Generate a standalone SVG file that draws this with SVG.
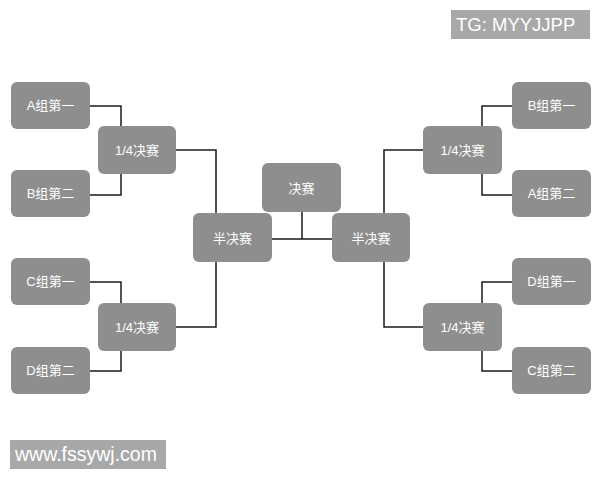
<svg xmlns="http://www.w3.org/2000/svg" width="600" height="480" viewBox="0 0 600 480">
<style>
.n rect{fill:#8e8e8e;}
.n text{fill:#fff;font-family:"Liberation Sans","Noto Sans CJK SC",sans-serif;font-size:13px;text-anchor:middle;dominant-baseline:central;}
.c path{fill:none;stroke:#1a1a1a;stroke-width:1.5;}
.wm rect{fill:#a8a8a8;}
.wm text{fill:#fff;font-family:"Liberation Sans",sans-serif;}
</style>
<rect width="600" height="480" fill="#fff"/>
<g class="c">
<path d="M90 106H121V126M90 195H121V174"/>
<path d="M90 282H121V303M90 371H121V351"/>
<path d="M176 150H216V213M176 327H216V262"/>
<path d="M512 106H482V126M512 195H482V174"/>
<path d="M512 282H482V303M512 371H482V351"/>
<path d="M423 150H384V213M423 327H384V262"/>
<path d="M272 239H332M302 212V239"/>
</g>
<g id="a1" class="n"><rect x="11" y="82" width="79" height="47" rx="6"/><text x="50.5" y="105.5">A组第一</text></g>
<g id="b2" class="n"><rect x="11" y="170" width="79" height="47" rx="6"/><text x="50.5" y="193.5">B组第二</text></g>
<g id="c1" class="n"><rect x="11" y="258" width="79" height="47" rx="6"/><text x="50.5" y="281.5">C组第一</text></g>
<g id="d2" class="n"><rect x="11" y="347" width="79" height="47" rx="6"/><text x="50.5" y="370.5">D组第二</text></g>
<g id="q1" class="n"><rect x="98" y="126" width="78" height="48" rx="6"/><text x="137" y="150">1/4决赛</text></g>
<g id="q2" class="n"><rect x="98" y="303" width="78" height="48" rx="6"/><text x="137" y="327">1/4决赛</text></g>
<g id="s1" class="n"><rect x="193" y="213" width="79" height="49" rx="6"/><text x="232.5" y="238">半决赛</text></g>
<g id="f" class="n"><rect x="262" y="163" width="79" height="49" rx="6"/><text x="301.5" y="188">决赛</text></g>
<g id="s2" class="n"><rect x="332" y="213" width="78" height="49" rx="6"/><text x="371" y="238">半决赛</text></g>
<g id="q3" class="n"><rect x="423" y="126" width="79" height="48" rx="6"/><text x="462.5" y="150">1/4决赛</text></g>
<g id="q4" class="n"><rect x="423" y="303" width="79" height="48" rx="6"/><text x="462.5" y="327">1/4决赛</text></g>
<g id="b1" class="n"><rect x="512" y="82" width="79" height="47" rx="6"/><text x="551.5" y="105.5">B组第一</text></g>
<g id="a2" class="n"><rect x="512" y="170" width="79" height="47" rx="6"/><text x="551.5" y="193.5">A组第二</text></g>
<g id="d1" class="n"><rect x="512" y="258" width="79" height="47" rx="6"/><text x="551.5" y="281.5">D组第一</text></g>
<g id="c2" class="n"><rect x="512" y="347" width="79" height="47" rx="6"/><text x="551.5" y="370.5">C组第二</text></g>
<g id="wm1" class="wm"><rect x="451" y="10" width="139" height="29"/><text x="456" y="31" font-size="18.5">TG: MYYJJPP</text></g>
<g id="wm2" class="wm"><rect x="10" y="440" width="156" height="29"/><text x="15" y="461" font-size="19.5">www.fssywj.com</text></g>
</svg>
